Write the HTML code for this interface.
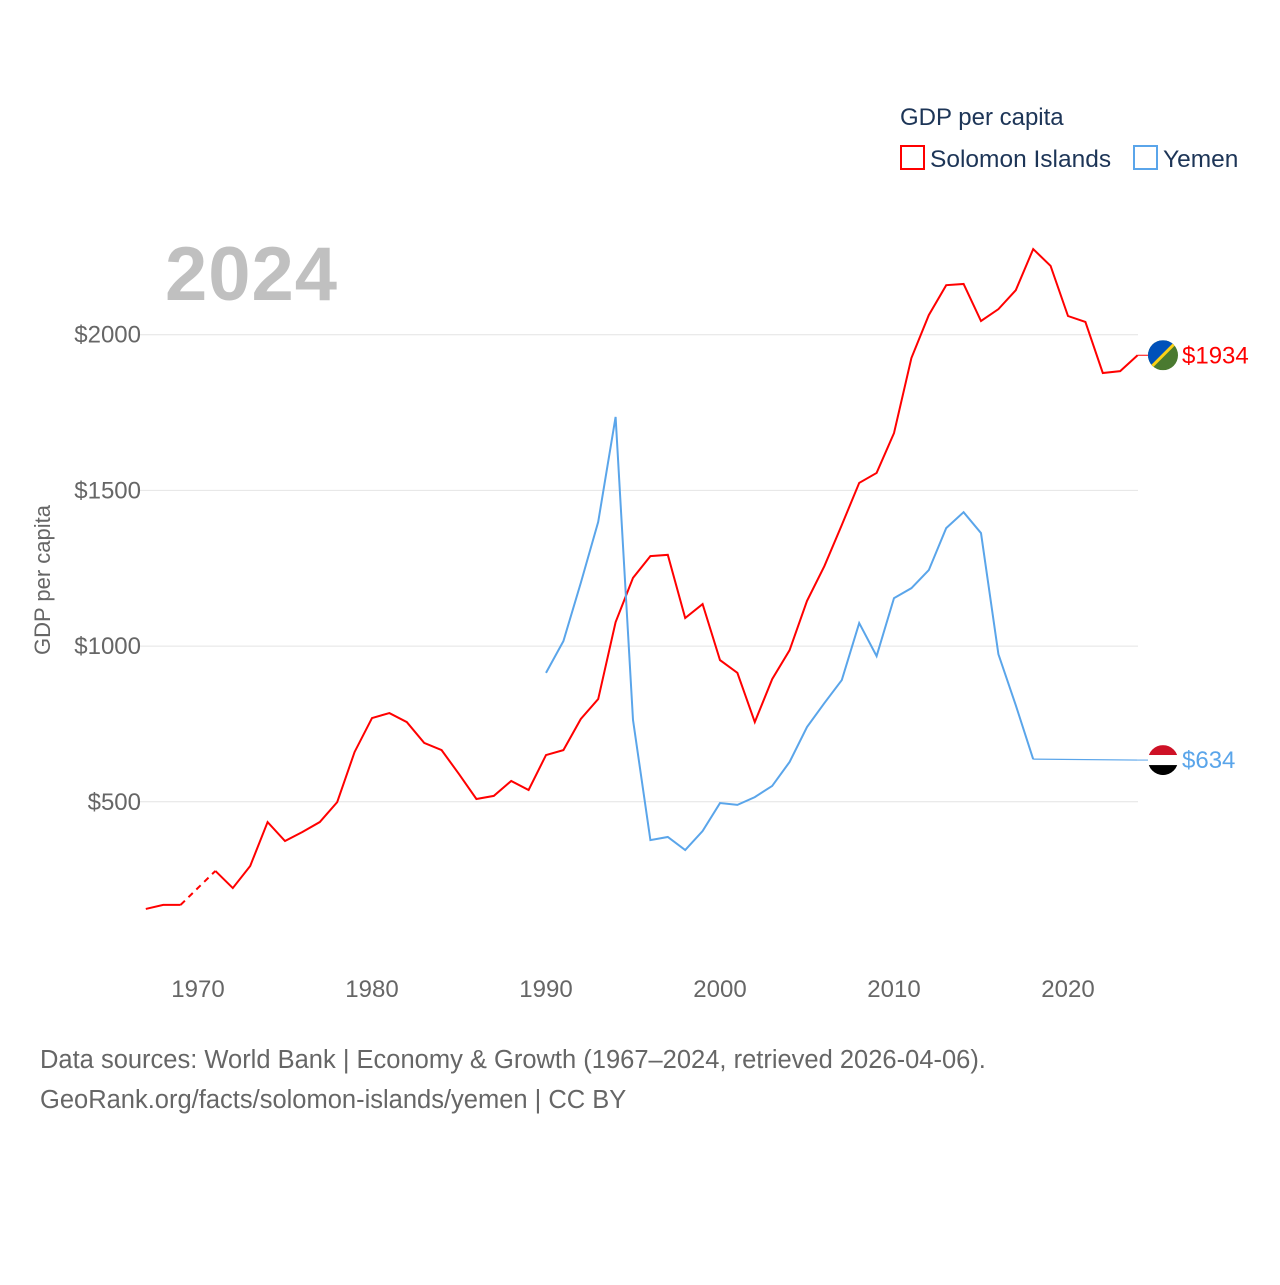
<!DOCTYPE html>
<html><head><meta charset="utf-8"><style>
body{margin:0;background:#fff;font-family:"Liberation Sans",sans-serif}
svg text{font-family:"Liberation Sans",sans-serif}
</style></head><body>
<svg id="c" width="1280" height="1280" viewBox="0 0 1280 1280">
<text x="900" y="125" font-size="24" fill="#1d3557">GDP per capita</text>
<g><rect x="901" y="146" width="23" height="23" fill="none" stroke="#ff0000" stroke-width="2"/><text x="930" y="167" font-size="24.5" fill="#1d3557">Solomon Islands</text></g>
<g><rect x="1134" y="146" width="23" height="23" fill="none" stroke="#5aa5ea" stroke-width="2"/><text x="1163" y="167" font-size="24.5" fill="#1d3557">Yemen</text></g>
<text x="165" y="300" font-size="76" font-weight="bold" fill="#c0c0c0" letter-spacing="1">2024</text>
<text transform="translate(50,580) rotate(-90)" text-anchor="middle" font-size="22" fill="#666">GDP per capita</text>
<g id="grid"></g><g id="xt"></g><g id="lines"></g>
<text x="40" y="1068" font-size="25.5" fill="#666">Data sources: World Bank | Economy &amp; Growth (1967–2024, retrieved 2026-04-06).</text>
<text x="40" y="1108" font-size="25.5" fill="#666">GeoRank.org/facts/solomon-islands/yemen | CC BY</text>
</svg>
<script>
const yTicks=[500,1000,1500,2000];
const xTicks=[1970,1980,1990,2000,2010,2020];
const solYears=[1967,1968,1969,1970,1971,1972,1973,1974,1975,1976,1977,1978,1979,1980,1981,1982,1983,1984,1985,1986,1987,1988,1989,1990,1991,1992,1993,1994,1995,1996,1997,1998,1999,2000,2001,2002,2003,2004,2005,2006,2007,2008,2009,2010,2011,2012,2013,2014,2015,2016,2017,2018,2019,2020,2021,2022,2023,2024];
const solVals=[156,169,169,null,278,223,294,435,374,403,435,499,660,769,785,756,689,666,589,509,519,567,538,650,666,766,830,1077,1219,1289,1293,1090,1135,955,914,756,894,987,1145,1257,1389,1524,1556,1684,1925,2063,2159,2163,2044,2082,2143,2275,2221,2060,2041,1877,1883,1934];
const yemYears=[1990,1991,1992,1993,1994,1995,1996,1997,1998,1999,2000,2001,2002,2003,2004,2005,2006,2007,2008,2009,2010,2011,2012,2013,2014,2015,2016,2017,2018];
const yemVals=[914,1016,1203,1399,1736,763,377,387,345,406,496,490,515,551,628,740,817,891,1074,968,1154,1186,1244,1379,1430,1363,974,810,637];
const yemLast=634;
const X=yr=>198+(yr-1970)*17.4, Y=v=>957.5-v*0.3114;
const NS="http://www.w3.org/2000/svg";
function mk(t,a,p){const e=document.createElementNS(NS,t);for(const k in a)e.setAttribute(k,a[k]);p.appendChild(e);return e;}
const grid=document.getElementById('grid'),xt=document.getElementById('xt'),L=document.getElementById('lines');
yTicks.forEach(v=>{const l=mk('line',{x1:140,x2:1138,y1:Y(v),y2:Y(v),stroke:'#e4e4e4'},grid);


const t=mk('text',{x:141,y:Y(v)+8,'text-anchor':'end','font-size':24,fill:'#666'},grid);t.textContent='$'+v;

});
xTicks.forEach(yr=>{const t=mk('text',{x:X(yr),y:997,'text-anchor':'middle','font-size':24,fill:'#666'},xt);t.textContent=yr;

});
function path(years,vals,color,name){let d='',pen=false,gaps=[];
for(let i=0;i<years.length;i++){if(vals[i]==null){pen=false;let j=i+1;while(vals[j]==null)j++;gaps.push([i-1,j]);continue;}
d+=(pen?'L':'M')+X(years[i])+' '+Y(vals[i]);pen=true;}
const p=mk('path',{d:d,fill:'none',stroke:color,'stroke-width':2},L);


gaps.forEach(g=>{const q=mk('line',{x1:X(years[g[0]]),y1:Y(vals[g[0]]),x2:X(years[g[1]]),y2:Y(vals[g[1]]),stroke:color,'stroke-width':2,'stroke-dasharray':'6,5'},L);

});}
path(solYears,solVals,'#ff0000','solomon-line');
path(yemYears,yemVals,'#5aa5ea','yemen-line');
const ly=yemYears[yemYears.length-1];
const f=mk('line',{x1:X(ly),y1:Y(yemVals[yemVals.length-1]),x2:X(2024),y2:Y(yemLast),stroke:'#5aa5ea','stroke-width':1.2},L);


const sv=solVals[solVals.length-1];
const c1=mk('line',{x1:X(2024),y1:Y(sv),x2:1148,y2:Y(sv),stroke:'#ff0000','stroke-width':1},L);


const c2=mk('line',{x1:X(2024),y1:Y(yemLast),x2:1148,y2:Y(yemLast),stroke:'#5aa5ea','stroke-width':1},L);


const fs=mk('g',{},L);


const cy1=Y(sv);
mk('defs',{},fs).innerHTML='<clipPath id="cs"><circle cx="1163" cy="'+cy1+'" r="15"/></clipPath><clipPath id="cy"><circle cx="1163" cy="'+Y(yemLast)+'" r="15"/></clipPath>';
const g1=mk('g',{'clip-path':'url(#cs)'},fs);
mk('rect',{x:1148,y:cy1-15,width:30,height:30,fill:'#4a7a30'},g1);
mk('polygon',{points:`1148,${cy1-15} 1178,${cy1-15} 1148,${cy1+15}`,fill:'#0051ba'},g1);
mk('line',{x1:1148,y1:cy1+15,x2:1178,y2:cy1-15,stroke:'#fcd116','stroke-width':3},g1);
const fy=mk('g',{'clip-path':'url(#cy)'},L);


const cy2=Y(yemLast);
mk('rect',{x:1148,y:cy2-15,width:30,height:10,fill:'#ce1126'},fy);
mk('rect',{x:1148,y:cy2-5,width:30,height:10,fill:'#fff'},fy);
mk('rect',{x:1148,y:cy2+5,width:30,height:10,fill:'#000'},fy);
const t1=mk('text',{x:1182,y:cy1+8,'font-size':24,fill:'#ff0000'},L);t1.textContent='$'+sv;


const t2=mk('text',{x:1182,y:cy2+8,'font-size':24,fill:'#5aa5ea'},L);t2.textContent='$'+yemLast;


</script></body></html>
